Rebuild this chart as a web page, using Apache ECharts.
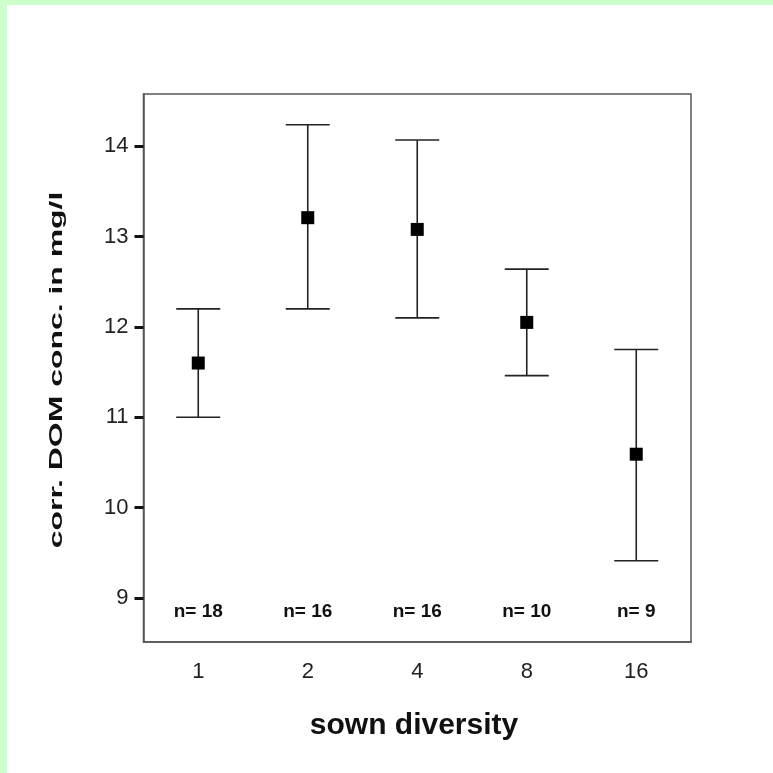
<!DOCTYPE html>
<html>
<head>
<meta charset="utf-8">
<script src="https://cdn.jsdelivr.net/npm/echarts@6/dist/echarts.min.js"></script>
<style>
html,body{margin:0;padding:0;background:#ccffcc;}
#wrap{position:absolute;left:0;top:0;width:773px;height:773px;background:#ccffcc;}
#chart{position:absolute;left:7px;top:5px;width:766px;height:768px;background:#ffffff;}
</style>
</head>
<body>
<div id="wrap"><div id="chart"></div></div>
<script>
const categories = ['1', '2', '4', '8', '16'];
const means = [11.60, 13.21, 13.08, 12.05, 10.59];
const lower = [11.00, 12.20, 12.10, 11.46, 9.41];
const upper = [12.20, 14.24, 14.07, 12.64, 11.75];
const nLabels = ['n= 18', 'n= 16', 'n= 16', 'n= 10', 'n= 9'];
const yTicks = [9, 10, 11, 12, 13, 14];
const xTitle = 'sown diversity';
const yTitle = 'corr. DOM conc. in mg/l';

const chart = echarts.init(document.getElementById('chart'), null, {renderer: 'canvas'});
const font = 'Liberation Sans, Arial, sans-serif';
const yMin = 8.51, yMax = 14.58;

const option = {
  animation: false,
  grid: {left: 136.5, right: 82, top: 89, bottom: 131, show: true, borderColor: '#555', borderWidth: 1.5, backgroundColor: '#fff'},
  xAxis: {
    type: 'category',
    data: categories,
    boundaryGap: true,
    axisLine: {lineStyle: {color: '#555', width: 1.5}},
    axisTick: {alignWithLabel: true, length: 9, lineStyle: {color: '#111', width: 3}},
    axisLabel: {fontFamily: font, fontSize: 22, color: '#222', margin: 19},
    splitLine: {show: false}
  },
  yAxis: {
    type: 'value',
    min: yMin,
    max: yMax,
    axisLine: {show: true, lineStyle: {color: '#555', width: 1.5}},
    axisTick: {show: true, length: 9, customValues: yTicks, lineStyle: {color: '#111', width: 3}},
    axisLabel: {fontFamily: font, fontSize: 22, color: '#222', margin: 15, customValues: yTicks},
    splitLine: {show: false}
  },
  graphic: [
    {
      type: 'text',
      x: 407, y: 721,
      style: {text: xTitle, fontFamily: font, fontSize: 30, fontWeight: 'bold', fill: '#111', align: 'center', verticalAlign: 'middle'}
    },
    {
      type: 'text',
      x: 50, y: 365,
      rotation: Math.PI / 2,
      scaleX: 1.68,
      style: {text: yTitle, fontFamily: font, fontSize: 19, fontWeight: 'bold', fill: '#111', align: 'center', verticalAlign: 'middle'}
    }
  ],
  series: [
    {
      type: 'custom',
      data: categories.map((c, i) => [i, lower[i], upper[i]]),
      renderItem: function (params, api) {
        const x = api.value(0);
        const lo = api.coord([x, api.value(1)]);
        const hi = api.coord([x, api.value(2)]);
        const hw = 22;
        const st = {stroke: '#222', lineWidth: 1.6};
        return {
          type: 'group',
          children: [
            {type: 'line', shape: {x1: lo[0], y1: lo[1], x2: hi[0], y2: hi[1]}, style: st},
            {type: 'line', shape: {x1: lo[0] - hw, y1: lo[1], x2: lo[0] + hw, y2: lo[1]}, style: st},
            {type: 'line', shape: {x1: hi[0] - hw, y1: hi[1], x2: hi[0] + hw, y2: hi[1]}, style: st}
          ]
        };
      },
      z: 2
    },
    {
      type: 'scatter',
      data: categories.map((c, i) => [i, means[i]]),
      symbol: 'rect',
      symbolSize: 13,
      itemStyle: {color: '#000', opacity: 1},
      z: 3
    },
    {
      type: 'custom',
      data: categories.map((c, i) => [i, yMin]),
      renderItem: function (params, api) {
        const p = api.coord([api.value(0), api.value(1)]);
        return {
          type: 'text',
          x: p[0], y: p[1] - 30,
          style: {text: nLabels[params.dataIndex], fontFamily: font, fontSize: 19, fontWeight: 'bold', fill: '#111', align: 'center', verticalAlign: 'middle'}
        };
      },
      z: 4
    }
  ]
};
chart.setOption(option);
</script>
</body>
</html>
